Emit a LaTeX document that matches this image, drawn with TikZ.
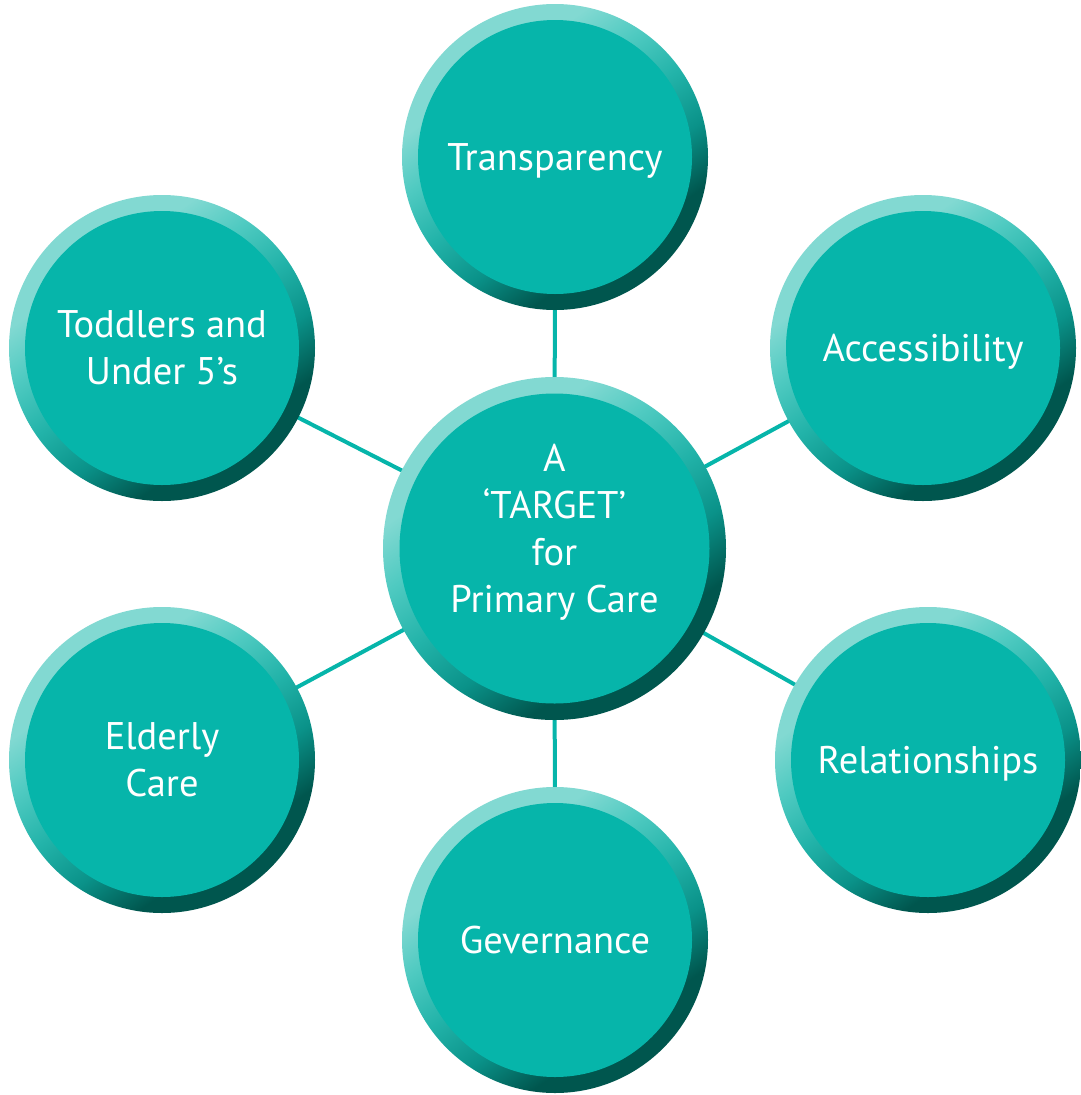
\documentclass[tikz,border=0pt]{standalone}
\usepackage{fontspec}
\setmainfont{PT Sans}
\usetikzlibrary{backgrounds}
\definecolor{discfill}{HTML}{06B5AA}
\definecolor{rimlight}{HTML}{82D9D2}
\definecolor{rimsoft}{HTML}{4FCAC1}
\definecolor{rimmid}{HTML}{22B3A9}
\definecolor{rimdeep}{HTML}{0A9289}
\definecolor{rimdark}{HTML}{00564E}
% light upper rim fading to a dark lower rim
\pgfdeclareverticalshading{rim}{100bp}{
  color(0bp)=(rimdark); color(32bp)=(rimdark); color(41bp)=(rimdeep);
  color(50bp)=(rimmid); color(59bp)=(rimsoft); color(67bp)=(rimlight);
  color(100bp)=(rimlight)}
\tikzset{
  disc/.style={circle, inner sep=0pt, minimum size=#1,
    preaction={shade, shading=rim, shading angle=35},
    text=white, align=center, text depth=0pt,
    font=\fontsize{38.5}{47}\selectfont},
  disc/.default=306pt,
  face/.style={path picture={\fill[discfill] (path picture bounding box.center) circle (#1);}},
  face/.default=137pt,
  spoke/.style={draw=discfill, line width=4pt}
}
\begin{document}
\begin{tikzpicture}[x=1pt, y=-1pt]
  \useasboundingbox (0,0) rectangle (1081,1095);

  % the hub and the six topics around it
  \node[disc=343pt, face=155pt, text depth=40pt] (hub) at (554.5,548.5)
    {A\\`TARGET'\\for\\Primary Care};
  \node[disc, face] (transp) at (555,157) {Transparency};
  \node[disc, face] (todd) at (162,348) {Toddlers and\\Under 5's};
  \node[disc, face] (access) at (923,348) {Accessibility};
  \node[disc, face] (elder) at (162,760) {Elderly\\Care};
  \node[disc, face] (relat) at (928,760) {Relationships};
  \node[disc, face] (gov) at (555,940) {Gevernance};

  % spokes from the hub, drawn behind the discs
  \begin{scope}[on background layer]
    \foreach \n in {transp, todd, access, elder, relat, gov}
      \draw[spoke] (hub.center) -- (\n.center);
  \end{scope}
\end{tikzpicture}
\end{document}
